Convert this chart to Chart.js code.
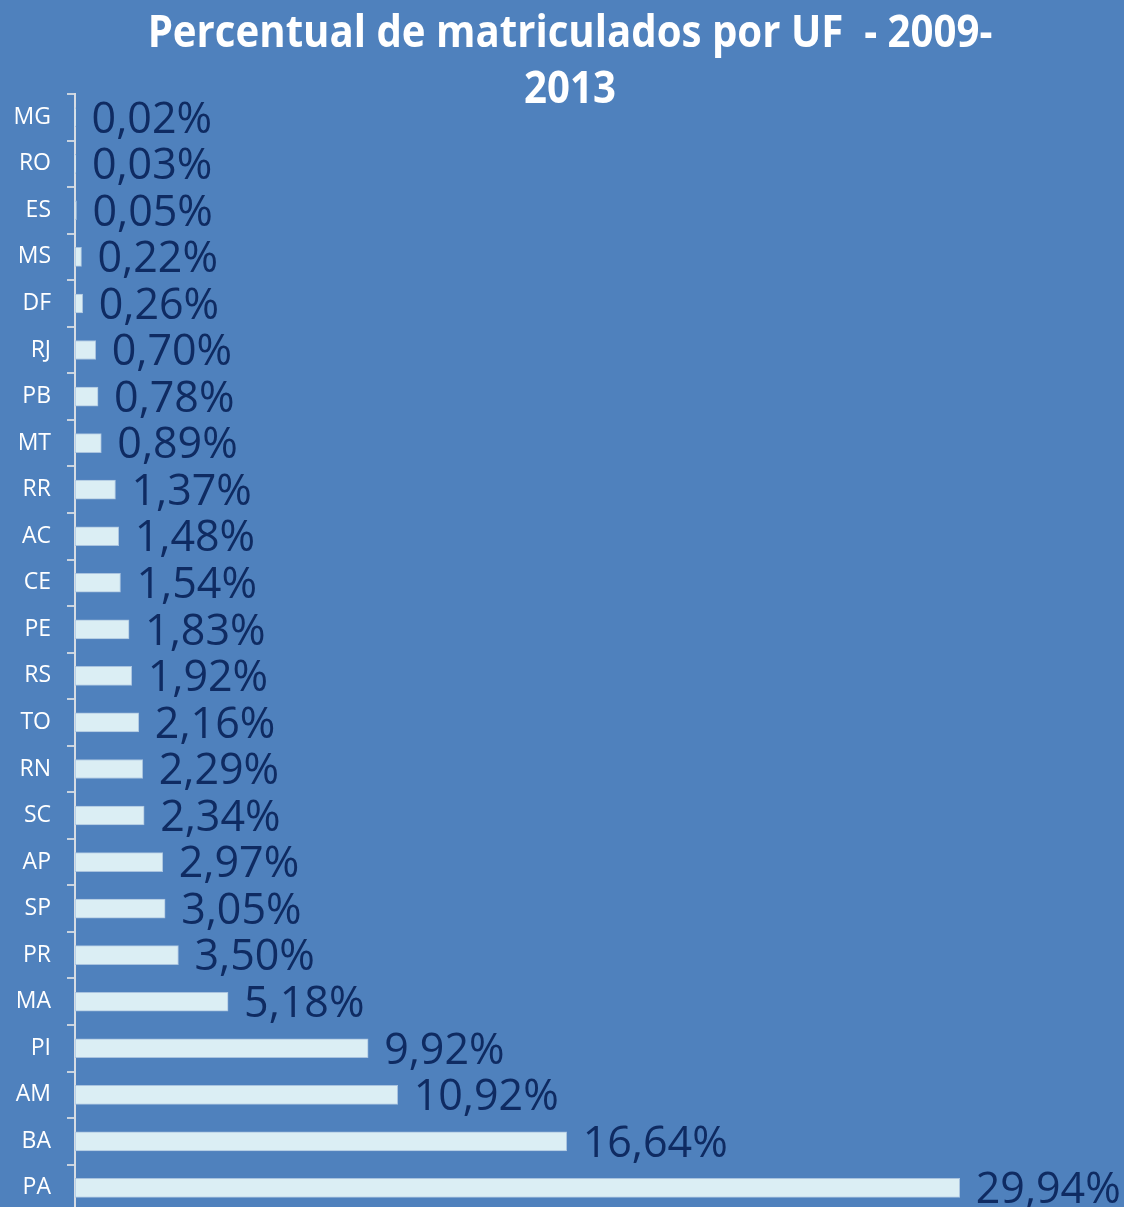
<!DOCTYPE html>
<html>
<head>
<meta charset="utf-8">
<script src="https://cdn.jsdelivr.net/npm/chart.js@4"></script>
<style>
  html, body { margin: 0; padding: 0; background: #4F81BD; overflow: hidden; }
  #wrap { width: 1124px; height: 1241px; }
</style>
</head>
<body>
<div id="wrap"><canvas id="chart" width="1124" height="1241" style="width:1124px;height:1241px"></canvas></div>
<script>
// data, top to bottom as in the picture
const states = ['MG', 'RO', 'ES', 'MS', 'DF', 'RJ', 'PB', 'MT', 'RR', 'AC', 'CE', 'PE',
  'RS', 'TO', 'RN', 'SC', 'AP', 'SP', 'PR', 'MA', 'PI', 'AM', 'BA', 'PA'];
const percents = [0.02, 0.03, 0.05, 0.22, 0.26, 0.70, 0.78, 0.89, 1.37, 1.48, 1.54, 1.83,
  1.92, 2.16, 2.29, 2.34, 2.97, 3.05, 3.50, 5.18, 9.92, 10.92, 16.64, 29.94];
const titleLines = ['Percentual de matriculados por UF  - 2009-', '2013'];

const fmt = v => v.toFixed(2).replace('.', ',') + '%';

// value labels at the end of each bar
const valueLabels = {
  id: 'valueLabels',
  afterDatasetsDraw(chart) {
    const ctx = chart.ctx;
    const meta = chart.getDatasetMeta(0);
    ctx.save();
    ctx.font = '43px "Open Sans"';
    ctx.fillStyle = '#0F2B62';
    ctx.textAlign = 'left';
    ctx.textBaseline = 'middle';
    meta.data.forEach((bar, i) => {
      ctx.fillText(fmt(percents[i]), bar.x + 16, bar.y + 3);
    });
    ctx.restore();
  }
};

// title drawn over the top of the plot, like the original
const titlePlugin = {
  id: 'topTitle',
  afterDraw(chart) {
    const ctx = chart.ctx;
    ctx.save();
    let size = 40;
    ctx.font = 'bold ' + size + 'px "Open Sans"';
    const w = ctx.measureText(titleLines[0]).width;
    size = size * 845 / w;
    ctx.font = 'bold ' + size + 'px "Open Sans"';
    ctx.fillStyle = '#FFFFFF';
    ctx.textAlign = 'center';
    ctx.textBaseline = 'middle';
    // a little taller, closer to the narrow original face
    ctx.translate(570, 0);
    ctx.scale(1, 1.12);
    ctx.fillText(titleLines[0], 0, 34 / 1.12);
    ctx.fillText(titleLines[1], 0, 90 / 1.12);
    ctx.restore();
  }
};

new Chart(document.getElementById('chart'), {
  type: 'bar',
  data: {
    labels: states,
    datasets: [{
      data: percents,
      backgroundColor: '#DBEEF4',
      borderColor: '#A9C3DF',
      borderWidth: 1,
      borderSkipped: false,
      barThickness: 19
    }]
  },
  options: {
    indexAxis: 'y',
    responsive: false,
    animation: false,
    layout: { padding: { top: 94, left: 0, right: 0, bottom: 0 } },
    plugins: {
      legend: { display: false },
      title: { display: false },
      tooltip: { enabled: false }
    },
    scales: {
      x: { display: false, min: 0, max: 35.5 },
      y: {
        afterFit(scale) { scale.width = 75; },
        grid: {
          offset: true,
          drawOnChartArea: false,
          tickLength: 8,
          color: '#C9D3DF',
          lineWidth: 2
        },
        border: { color: '#D6DCE4', width: 2 },
        ticks: {
          color: '#FFFFFF',
          padding: 16,
          font: { family: '"Open Sans"', size: 23 }
        }
      }
    }
  },
  plugins: [valueLabels, titlePlugin]
});
</script>
</body>
</html>
